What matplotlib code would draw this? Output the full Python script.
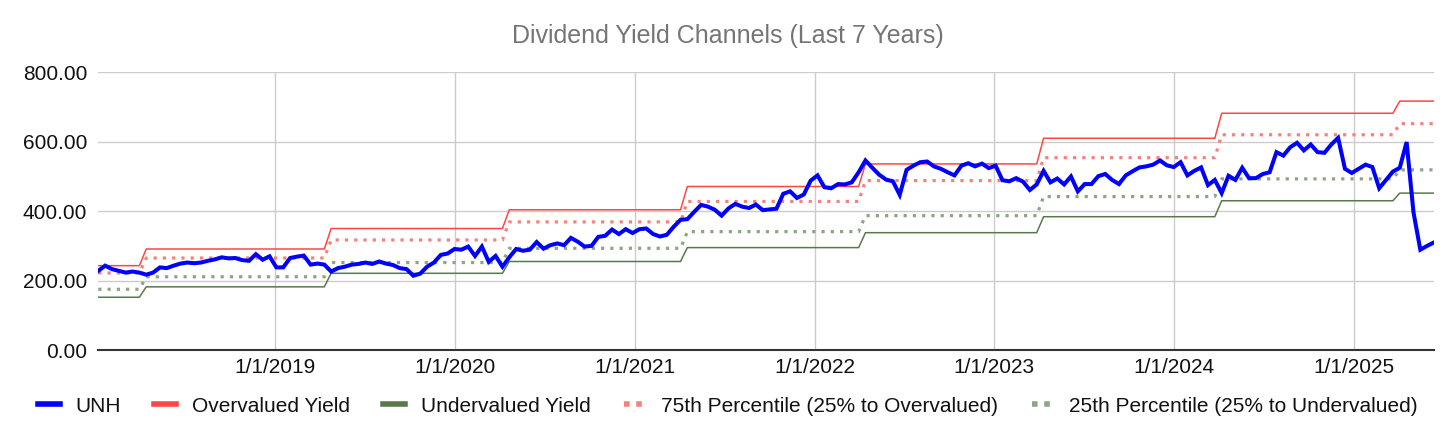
import numpy as np
import pandas as pd
import matplotlib
matplotlib.use("Agg")
import matplotlib.pyplot as plt
from matplotlib.lines import Line2D

# biweekly UNH closes (Jan 2018 -> Jun 2025)
unh = [
    228, 243, 233, 228, 223, 226, 223, 217, 223, 238, 236, 243, 249, 252, 250, 252,
    257, 261, 267, 264, 265, 259, 257, 276, 260, 270, 238, 238, 265, 269, 272, 246,
    249, 246, 226, 236, 240, 246, 248, 252, 248, 255, 249, 245, 236, 233, 214, 220,
    240, 252, 274, 278, 291, 289, 298, 271, 298, 254, 271, 240, 267, 291, 286, 289,
    311, 292, 302, 307, 302, 323, 312, 298, 300, 326, 329, 347, 334, 348, 337, 348,
    350, 334, 327, 332, 355, 375, 377, 398, 418, 413, 404, 387, 408, 421, 413, 409,
    419, 403, 405, 407, 450, 457, 438, 448, 488, 503, 469, 466, 478, 477, 483, 512,
    546, 525, 505, 491, 486, 447, 519, 531, 541, 543, 529, 522, 512, 503, 531, 538,
    529, 537, 524, 531, 489, 486, 495, 485, 461, 477, 516, 483, 494, 477, 500, 457,
    478, 478, 501, 507, 490, 478, 503, 515, 526, 529, 534, 546, 532, 527, 541, 503,
    516, 526, 475, 490, 452, 502, 490, 525, 495, 495, 507, 512, 570, 560, 584, 597,
    575, 592, 570, 568, 592, 611, 522, 510, 522, 534, 527, 466, 490, 514, 525, 599,
    397, 289, 300, 310,
]
first_date = "2018-01-06"
last_date = "2025-06-13"

# channel levels change once a year
step_dates = ["2018-04-13", "2019-04-12", "2020-04-10", "2021-04-08",
              "2022-04-08", "2023-04-06", "2024-04-04", "2025-04-03"]
overvalued = [243, 291, 350, 404, 471, 536, 610, 682, 717]
pct75 = [222, 265, 317, 369, 428, 488, 554, 620, 652]
pct25 = [175, 211, 252, 293, 341, 387, 442, 493, 519]
undervalued = [152, 182, 221, 255, 295, 338, 384, 430, 452]

yticks = [0, 200, 400, 600, 800]
xtick_years = [2019, 2020, 2021, 2022, 2023, 2024, 2025]


def main():
    plt.rcParams["font.family"] = ["Liberation Sans", "DejaVu Sans"]

    dates = pd.date_range(first_date, last_date, periods=len(unh))
    idx = np.searchsorted(pd.to_datetime(step_dates).values, dates.values, side="right")
    over_s = np.array(overvalued)[idx]
    p75_s = np.array(pct75)[idx]
    p25_s = np.array(pct25)[idx]
    under_s = np.array(undervalued)[idx]

    c_blue = "#0000ff"
    c_red = "#ff4646"
    c_green = "#587a4b"
    c_p75 = "#f5807e"
    c_p25 = "#8fa385"

    fig = plt.figure(figsize=(14.56, 4.4), dpi=100)
    ax = fig.add_axes([0.0675, 0.2045, 0.9174, 0.6312])

    ax.plot(dates, over_s, color=c_red, lw=1.1, zorder=3)
    ax.plot(dates, under_s, color=c_green, lw=1.1, zorder=3)
    ax.plot(dates, p75_s, color=c_p75, lw=2.3, linestyle=(0, (1, 1.9)),
            dash_capstyle="butt", zorder=3)
    ax.plot(dates, p25_s, color=c_p25, lw=2.3, linestyle=(0, (1, 1.9)),
            dash_capstyle="butt", zorder=3)
    ax.plot(dates, unh, color=c_blue, lw=2.9, zorder=4, solid_joinstyle="miter")

    ax.set_xlim(dates[0], dates[-1])
    ax.set_ylim(0, 800)
    ax.set_yticks(yticks)
    ax.set_yticklabels([f"{v:.2f}" for v in yticks])
    xt = [pd.Timestamp(f"{y}-01-01") for y in xtick_years]
    ax.set_xticks(xt)
    ax.set_xticklabels([f"1/1/{y}" for y in xtick_years])

    ax.grid(True, color="#cccccc", lw=1.0, zorder=0)
    ax.set_axisbelow(True)
    for s in ["top", "right", "left"]:
        ax.spines[s].set_visible(False)
    ax.spines["bottom"].set_color("#333333")
    ax.spines["bottom"].set_linewidth(1.5)
    ax.spines["bottom"].set_zorder(5)
    ax.tick_params(axis="both", length=0, labelsize=15, colors="#111111")
    ax.tick_params(axis="y", pad=8)
    ax.tick_params(axis="x", pad=6)

    fig.suptitle("Dividend Yield Channels (Last 7 Years)", x=0.5, y=0.945,
                 fontsize=18, color="#757575")

    handles = [
        Line2D([], [], color=c_blue, lw=4),
        Line2D([], [], color=c_red, lw=4),
        Line2D([], [], color=c_green, lw=4),
        Line2D([], [], color=c_p75, lw=4, linestyle=(0, (1, 1.2)), dash_capstyle="butt"),
        Line2D([], [], color=c_p25, lw=4, linestyle=(0, (1, 1.2)), dash_capstyle="butt"),
    ]
    labels = ["UNH", "Overvalued Yield", "Undervalued Yield",
              "75th Percentile (25% to Overvalued)", "25th Percentile (25% to Undervalued)"]
    fig.legend(handles, labels, loc="center", bbox_to_anchor=(0.5, 0.077), ncol=5,
               frameon=False, fontsize=15, handlelength=1.05, handletextpad=0.75,
               columnspacing=1.6, labelcolor="#111111")

    fig.savefig("out.png", dpi=100)


if __name__ == "__main__":
    main()
